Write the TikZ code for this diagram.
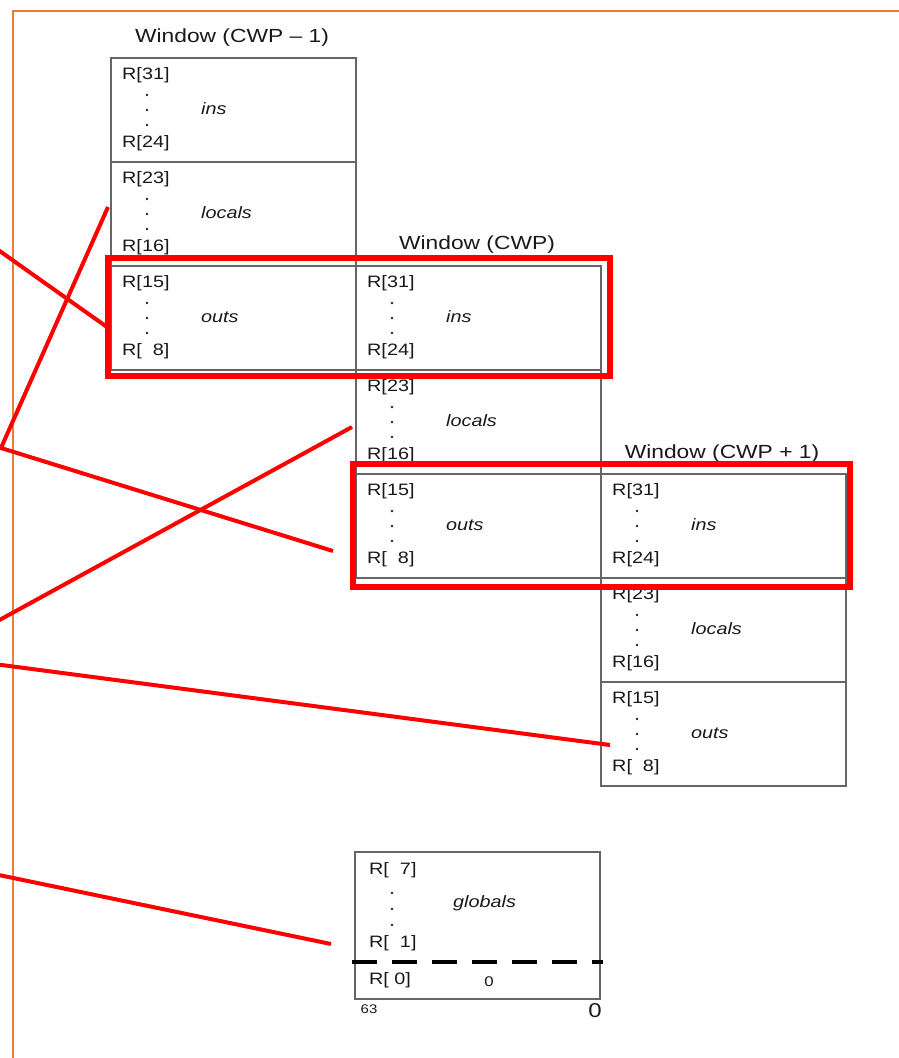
\documentclass[tikz,border=0pt]{standalone}
\usepackage{fontspec}
\setmainfont{Liberation Sans}[FakeStretch=1.2]
\definecolor{frameorange}{RGB}{237,125,49}
\tikzset{
  regbox/.style={draw=black!60, line width=1.6pt, minimum width=245pt, minimum height=104pt, anchor=north west, inner sep=0pt},
  reg/.style={font=\fontsize{16.5}{18}\selectfont, text=black!90, inner sep=0pt, anchor=west},
  regpart/.style={reg, font=\fontsize{16.5}{18}\selectfont\itshape},
  wtitle/.style={font=\fontsize{19}{22}\selectfont, text=black!90, inner sep=0pt},
  hilite/.style={draw=red, line width=6pt},
  link/.style={red, line width=4pt},
}
\begin{document}
\begin{tikzpicture}[x=1pt,y=-1pt]
\useasboundingbox (0,0) rectangle (898,1058);

\draw [frameorange, line width=2pt] (12.5,1070) |- (910,10.5);

\node [wtitle] (t1) at (232,38) {Window (CWP – 1)};
\node [wtitle] (t2) at (477,245) {Window (CWP)};
\node [wtitle] (t3) at (722,454) {Window (CWP + 1)};

\foreach \w/\x/\y/\ra/\rb/\lab in {
  w1ins/110/57/{R[31]}/{R[24]}/ins, w1loc/110/161/{R[23]}/{R[16]}/locals, w1out/110/265/{R[15]}/{R[~~8]}/outs,
  w2ins/355/265/{R[31]}/{R[24]}/ins, w2loc/355/369/{R[23]}/{R[16]}/locals, w2out/355/473/{R[15]}/{R[~~8]}/outs,
  w3ins/600/473/{R[31]}/{R[24]}/ins, w3loc/600/577/{R[23]}/{R[16]}/locals, w3out/600/681/{R[15]}/{R[~~8]}/outs}{
  \node [regbox] (\w) at (\x,\y) {};
  \node [reg] at ([shift={(12,18)}]\w.north west) {\ra};
  \node [reg] at ([shift={(12,86)}]\w.north west) {\rb};
  \node [regpart] at ([shift={(91,52)}]\w.north west) {\lab};
  \foreach \d in {38,53,68} \fill [black!85] ([shift={(37,\d)}]\w.north west) circle (1.3pt);
}

% globals
\node [regbox, minimum height=147pt] (glob) at (354,851) {};
\node [reg] at (369,870) {R[~~7]};
\node [reg] at (369,943) {R[~~1]};
\node [reg] at (369,980) {R[~0]};
\foreach \d in {893,909,925} \fill [black!85] (392,\d) circle (1.3pt);
\node [regpart] at (453,903) {globals};
\node [reg, anchor=center, font=\fontsize{14}{16}\selectfont] at (489,982) {0};
\draw [black, line width=3.5pt, dash pattern=on 25pt off 15pt] (352,962) -- (603,962);
\node [reg, anchor=center, font=\fontsize{12.5}{14}\selectfont] at (369,1009) {63};
\node [reg, anchor=center, font=\fontsize{20}{22}\selectfont] at (595,1011) {0};

\draw [hilite] (108,258) rectangle (610,376);
\draw [hilite] (353,464) rectangle (850,587);

\coordinate (a1) at (-6,247);
\coordinate (b1) at (107,327);
\coordinate (v) at (1,448);
\coordinate (b2) at (108,207);
\coordinate (b3) at (333,551);
\coordinate (a4) at (-6,623);
\coordinate (b4) at (352,427);
\coordinate (a5) at (-6,664);
\coordinate (b5) at (610,745);
\coordinate (a6) at (-6,874);
\coordinate (b6) at (331,944);

\draw [link] (a1) -- (b1);
\draw [link] (b2) -- (v) -- (b3);
\draw [link] (a4) -- (b4);
\draw [link] (a5) -- (b5);
\draw [link] (a6) -- (b6);

\end{tikzpicture}
\end{document}
